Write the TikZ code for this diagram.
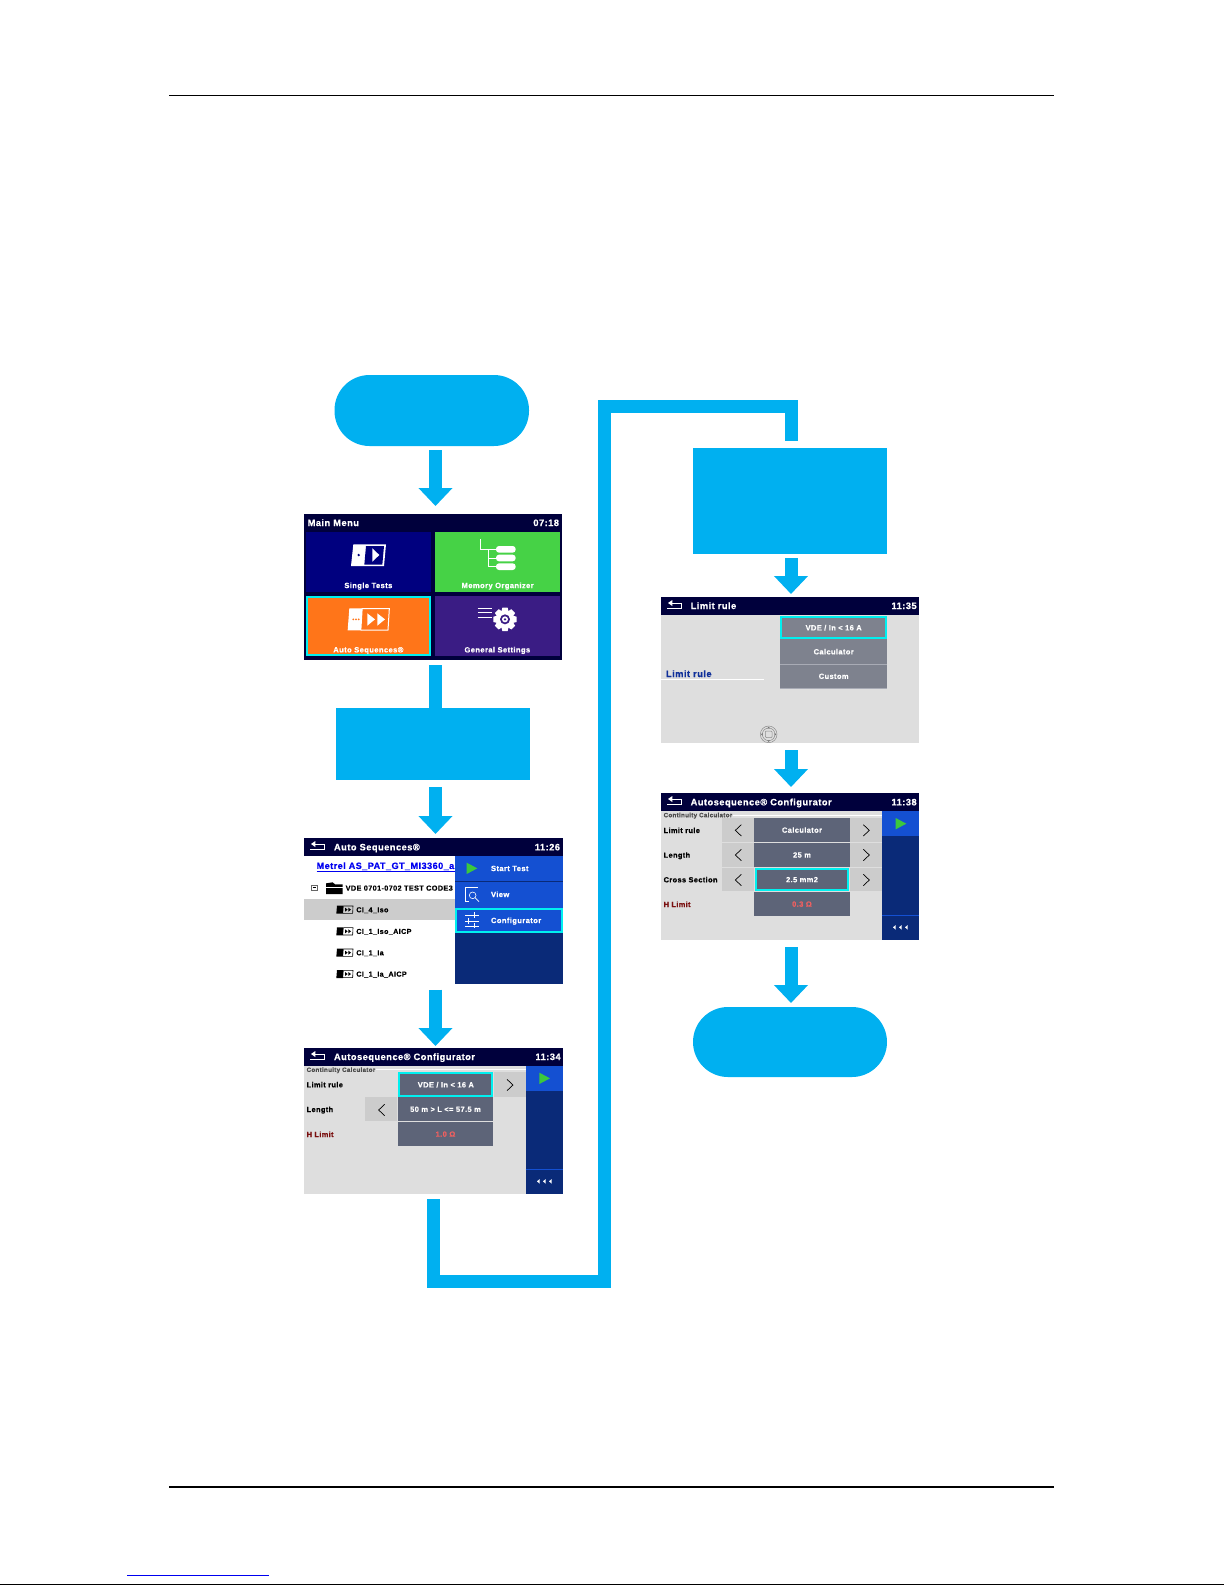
\documentclass[tikz,border=0pt]{standalone}
\usepackage{fontspec}
\setmainfont{Liberation Sans}
\newfontfamily\scr{Liberation Sans}[LetterSpace=5,BoldFeatures={FakeBold=0.5}]
\usetikzlibrary{arrows.meta}
\definecolor{flow}{HTML}{00B0F0}
\definecolor{barc}{HTML}{00003C}
\definecolor{navyt}{HTML}{00007F}
\definecolor{greent}{HTML}{46D246}
\definecolor{oranget}{HTML}{FF7519}
\definecolor{purplet}{HTML}{3A1C84}
\definecolor{cyanb}{HTML}{00F0F0}
\definecolor{panelb}{HTML}{1450D2}
\definecolor{paneld}{HTML}{0A2A78}
\definecolor{bodyg}{HTML}{DEDEDE}
\definecolor{cellg}{HTML}{CCCCCC}
\definecolor{btn}{HTML}{5D6478}
\definecolor{btnl}{HTML}{7E828E}
\definecolor{btnsep}{HTML}{A8ABB5}
\definecolor{limr}{HTML}{F06060}
\definecolor{darkr}{HTML}{7A0F0F}
\definecolor{linkb}{HTML}{0000F0}
\definecolor{lblue}{HTML}{10309A}
\definecolor{playg}{HTML}{3CC83C}
\def\zs{1}
\newcommand\capbox[1]{\smash{#1}\rule{0pt}{.72em}}
\newcommand\bx[7]{\node[boxn,#6,minimum width={(#4-#2)*\zs*1pt},minimum height={(#5-#3)*\zs*1pt}] (#1) at ({(#2+#4)/2},{(#3+#5)/2}) {\capbox{#7}};}
\newcommand\tl[5]{\node[txt,anchor=west,#4] (#1) at (#2,#3) {\capbox{#5}};}
\newcommand\tc[5]{\node[txt,anchor=center,#4] (#1) at (#2,#3) {\capbox{#5}};}
\newcommand\tr[5]{\node[txt,anchor=east,#4] (#1) at (#2,#3) {\capbox{#5}};}
% chevrons, back arrow, play triangle, triple arrows (zoom units)
\newcommand\chevl[2]{\draw[chev] ({#1+9},{#2-17}) -- ({#1-9},{#2}) -- ({#1+9},{#2+17});}
\newcommand\chevr[2]{\draw[chev] ({#1-9},{#2-17}) -- ({#1+9},{#2}) -- ({#1-9},{#2+17});}
\newcommand\backic[2]{%
  \draw[white,line width=.8pt] (#1,#2) -- ({#1+43},#2) -- ({#1+43},{#2-15}) -- ({#1+12},{#2-15});
  \fill[white] ({#1+3},{#2-15}) -- ({#1+16},{#2-24}) -- ({#1+16},{#2-6}) -- cycle;}
\newcommand\playic[2]{\fill[playg] (#1,{#2-17}) -- ({#1+32},#2) -- (#1,{#2+17}) -- cycle;}
\newcommand\triple[2]{\foreach \d in {-18,0,18} {\fill[white] ({#1+\d-5},#2) -- ({#1+\d+3},{#2-7}) -- ({#1+\d+3},{#2+7}) -- cycle;}}
\newcommand\seqic[2]{%
  \fill[black] (#1,{#2+12}) -- ({#1+2},{#2-12}) -- ({#1+22},{#2-12}) -- ({#1+20},{#2+12}) -- cycle;
  \draw[black,line width=.6pt] ({#1+22},{#2-11}) -- ({#1+50},{#2-11}) -- ({#1+49},{#2+11}) -- ({#1+20},{#2+11});
  \fill[black] ({#1+26},{#2-6}) -- ({#1+34},#2) -- ({#1+26},{#2+6}) -- cycle;
  \fill[black] ({#1+36},{#2-6}) -- ({#1+44},#2) -- ({#1+36},{#2+6}) -- cycle;}
\tikzset{
  boxn/.style={rectangle,inner sep=0pt,outer sep=0pt,text=white,align=center,font=\scr\bfseries\fontsize{7.5}{9}\selectfont},
  txt/.style={inner sep=0pt,outer sep=0pt,text=white,font=\scr\bfseries\fontsize{7.5}{9}\selectfont},
  ttl/.style={font=\scr\bfseries\fontsize{9.3}{11}\selectfont},
  tilelab/.style={font=\scr\bfseries\fontsize{7.6}{9}\selectfont},
  rowlab/.style={text=black,font=\scr\bfseries\fontsize{7.4}{9}\selectfont},
  seqlab/.style={text=black,font=\scr\bfseries\fontsize{7.2}{9}\selectfont},
  sublab/.style={text=black!70,font=\scr\bfseries\fontsize{6.2}{7}\selectfont},
  chev/.style={draw=black,line width=.7pt,line join=miter},
  sel/.style={draw=cyanb,line width=2pt},
  flowarrow/.style={draw=flow,line width=13pt,-{Triangle[width=33pt,length=18pt]}},
  flowline/.style={draw=flow,line width=13pt,line join=miter},
  ovalbox/.style={fill=flow,rounded corners=35pt},
  flowbox/.style={fill=flow},
  rule/.style={draw=black,line width=1pt},
}
\begin{document}
\begin{tikzpicture}[x=1pt,y=-1pt]
\useasboundingbox (0,0) rectangle (1225,1585);
% page rules
\coordinate (rulTL) at (169,95.6); \coordinate (rulTR) at (1054,95.6);
\coordinate (rulBL) at (169,1486.8); \coordinate (rulBR) at (1054,1486.8);
\coordinate (linkL) at (127,1575.3); \coordinate (linkR) at (269,1575.3);
\coordinate (footL) at (0,1584.3); \coordinate (footR) at (1224,1584.3);
\draw[rule] (rulTL) -- (rulTR);
\draw[rule,line width=2.2pt] (rulBL) -- (rulBR);
\draw[draw=linkb,line width=1pt] (linkL) -- (linkR);
\draw[rule] (footL) -- (footR);
% flow boxes
\bx{startov}{334.5}{375}{529}{446}{ovalbox}{}
\bx{box2}{336}{707.5}{530}{780}{flowbox}{}
\bx{box3}{693}{448}{887}{554}{flowbox}{}
\bx{endov}{693}{1007}{887}{1077}{ovalbox}{}

% ---------- Main menu
\begin{scope}[shift={(290,500)},x=.33333pt,y=-.33333pt]
\def\zs{.33333}
\bx{menu}{42}{42}{816}{480}{fill=barc}{}
\tl{menuT}{53}{68}{ttl}{Main Menu}
\tr{menuC}{807}{68}{ttl}{07:18}
\bx{tileS}{48}{95}{424}{275}{fill=navyt}{}
\bx{tileM}{436}{95}{810}{275}{fill=greent}{}
\bx{tileA}{51}{291}{420}{465}{fill=oranget,sel}{}
\bx{tileG}{436}{288}{810}{468}{fill=purplet}{}
\tc{tileSl}{235}{256}{tilelab}{Single Tests}
\tc{tileMl}{623}{256}{tilelab}{Memory Organizer}
\tc{tileAl}{235}{449}{tilelab}{Auto Sequences®}
\tc{tileGl}{622}{449}{tilelab}{General Settings}
% single icon
\fill[white] (183,198) -- (190,133) -- (288,133) -- (282,198) -- cycle;
\fill[navyt] (228,138) -- (282,138) -- (277,194) -- (223,194) -- cycle;
\fill[white] (247,145) -- (268,165) -- (247,185) -- cycle;
\fill[navyt] (206,165) circle (4);
% memory icon
\draw[white,line width=.8pt] (570,118) -- (570,148) -- (620,148);
\draw[white,line width=.8pt] (595,148) -- (595,200) -- (620,200) (595,174) -- (620,174);
\foreach \yy in {148,174,200} {\fill[white,rounded corners=3pt] (618,{\yy-10}) rectangle (677,{\yy+10});}
% auto icon
\draw[white,line width=1pt] (215,326) -- (298,326) -- (294,390) -- (212,390);
\fill[white] (173,391) -- (178,325) -- (218,325) -- (214,391) -- cycle;
\fill[white] (232,340) -- (255,358) -- (232,377) -- cycle;
\fill[white] (262,340) -- (285,358) -- (262,377) -- cycle;
\foreach \xx in {190,198,206} {\fill[oranget] (\xx,358) circle (3);}
% settings icon
\foreach \yy in {325,337,351} {\draw[white,line width=1pt] (563,\yy) -- (607,\yy);}
\foreach \aa in {0,45,...,315} {\fill[white,rotate around={\aa:(645,358)}] (637,323) -- (653,323) -- (657,340) -- (633,340) -- cycle;}
\fill[white] (645,358) circle (26);
\fill[purplet] (645,358) circle (15);
\fill[white] (645,358) circle (9);
\fill[purplet] (645,358) circle (4);
\end{scope}

% ---------- Auto sequences
\begin{scope}[shift={(290,825)},x=.33333pt,y=-.33333pt]
\def\zs{.33333}
\bx{seq}{42}{39}{819}{477}{fill=white}{}
\bx{seqB}{42}{39}{819}{92}{fill=barc}{}
\backic{60}{72}
\tl{seqT}{132}{66}{ttl}{Auto Sequences®}
\tr{seqC}{810}{66}{ttl}{11:26}
\tl{seqL}{80}{122}{text=linkb,font=\scr\bfseries\fontsize{9.1}{11}\selectfont}{Metrel AS\_PAT\_GT\_MI3360\_a}
\draw[linkb,line width=.8pt] (80,138) -- (496,138);
\bx{seqSel}{42}{222}{496}{285}{fill=cellg}{}
\draw[black!60,line width=.5pt] (65,180) rectangle (82,196);
\draw[black,line width=.7pt] (68,188) -- (79,188);
\fill[black] (108,207) -- (108,175) -- (128,172) -- (135,178) -- (158,178) -- (158,207) -- cycle;
\draw[white,line width=.4pt] (108,186) -- (158,186);
\tl{seqF}{167}{189}{text=black,font=\scr\bfseries\fontsize{7.3}{8}\selectfont}{VDE 0701-0702 TEST CODE3}
\seqic{139}{254}\seqic{139}{319}\seqic{139}{383}\seqic{139}{447}
\tl{seqR1}{199}{254}{seqlab}{CI\_4\_Iso}
\tl{seqR2}{199}{319}{seqlab}{CI\_1\_Iso\_AICP}
\tl{seqR3}{199}{383}{seqlab}{CI\_1\_Ia}
\tl{seqR4}{199}{447}{seqlab}{CI\_1\_Ia\_AICP}
\bx{seqP}{496}{92}{819}{477}{fill=paneld}{}
\bx{seqP1}{496}{92}{819}{168}{fill=panelb}{}
\bx{seqP2}{496}{171}{819}{248}{fill=panelb}{}
\bx{seqP3}{499}{253}{816}{320}{fill=panelb,sel}{}
\playic{530}{130}
\tl{seqS}{603}{130}{tilelab}{Start Test}
\tl{seqV}{603}{208}{tilelab}{View}
\tl{seqK}{603}{286}{tilelab}{Configurator}
% view icon
\draw[white,line width=.6pt] (563,187) -- (525,187) -- (525,228) -- (537,228);
\draw[white,line width=.6pt] (548,211) circle (10);
\draw[white,line width=.8pt] (555,218) -- (567,230);
% configurator icon
\draw[white,line width=.8pt] (525,270) -- (567,270) (525,288) -- (567,288) (525,303) -- (567,303);
\draw[white,line width=1.2pt] (553,262) -- (553,278) (535,280) -- (535,296) (553,295) -- (553,310);
\end{scope}

% ---------- Configurator 1
\begin{scope}[shift={(290,1040)},x=.33333pt,y=-.33333pt]
\def\zs{.33333}
\bx{cfa}{42}{24}{819}{462}{fill=bodyg}{}
\bx{cfaB}{42}{24}{819}{77}{fill=barc}{}
\backic{60}{57}
\tl{cfaT}{132}{50}{ttl}{Autosequence® Configurator}
\tr{cfaC}{812}{50}{ttl}{11:34}
\bx{cfaP}{707}{77}{819}{462}{fill=paneld}{}
\bx{cfaP1}{707}{77}{819}{152}{fill=panelb}{}
\draw[panelb,line width=.5pt] (707,388) -- (819,388);
\playic{748}{115}
\triple{764}{424}
\tl{cfaS}{50}{89}{sublab}{Continuity Calculator}
\draw[white,line width=.8pt] (258,89) -- (707,89);
\tl{cfaL1}{50}{134}{rowlab}{Limit rule}
\tl{cfaL2}{50}{208}{rowlab}{Length}
\tl{cfaL3}{50}{283}{rowlab,text=darkr}{H Limit}
\bx{cfaA1}{612}{97}{707}{171}{fill=cellg}{}
\bx{cfaA2}{225}{171}{322}{243}{fill=cellg}{}
\chevr{660}{135}
\chevl{275}{210}
\bx{cfaV1}{328}{100}{607}{168}{fill=btn,sel}{VDE / In < 16 A}
\bx{cfaV2}{323}{172}{610}{243}{fill=btn}{50 m > L <= 57.5 m}
\bx{cfaV3}{323}{246}{610}{318}{fill=btn,text=limr}{1.0 Ω}
\end{scope}

% ---------- Limit rule
\begin{scope}[shift={(650,590)},x=.33333pt,y=-.33333pt]
\def\zs{.33333}
\bx{lim}{34}{21}{808}{459}{fill=bodyg}{}
\bx{limB}{34}{21}{808}{74}{fill=barc}{}
\backic{51}{54}
\tl{limT}{122}{47}{ttl}{Limit rule}
\tr{limC}{800}{47}{ttl}{11:35}
\bx{limV2}{390}{148}{712}{222}{fill=btnl}{Calculator}
\bx{limV3}{390}{222}{712}{295}{fill=btnl}{Custom}
\bx{limV1}{393}{81}{709}{145}{fill=btnl,sel}{VDE / In < 16 A}
\draw[btnsep,line width=1pt] (390,222) -- (712,222) (390,296) -- (712,296);
\tl{limL}{48}{251}{text=lblue,ttl}{Limit rule}
\draw[white,line width=.8pt] (34,267) -- (341,267);
\begin{scope}
\clip (300,380) rectangle (420,459);
\draw[black!45,line width=.5pt] (356,433) circle (25);
\draw[black!45,line width=.5pt] (356,433) circle (19);
\draw[black!45,line width=.5pt,rounded corners=1pt] (346,423) rectangle (366,443);
\foreach \aa in {0,90,180,270} {\fill[black!55,rotate around={\aa:(356,433)}] (352,415) -- (360,415) -- (356,410) -- cycle;}
\end{scope}
\end{scope}

% ---------- Configurator 2
\begin{scope}[shift={(650,785)},x=.33333pt,y=-.33333pt]
\def\zs{.33333}
\bx{cfb}{34}{24}{808}{465}{fill=bodyg}{}
\bx{cfbB}{34}{24}{808}{78}{fill=barc}{}
\backic{51}{57}
\tl{cfbT}{122}{51}{ttl}{Autosequence® Configurator}
\tr{cfbC}{800}{51}{ttl}{11:38}
\bx{cfbP}{696}{78}{808}{465}{fill=paneld}{}
\bx{cfbP1}{696}{78}{808}{153}{fill=panelb}{}
\draw[panelb,line width=.5pt] (696,391) -- (808,391);
\playic{737}{116}
\triple{752}{427}
\tl{cfbS}{41}{90}{sublab}{Continuity Calculator}
\draw[white,line width=.8pt] (248,90) -- (696,90);
\tl{cfbL1}{41}{136}{rowlab}{Limit rule}
\tl{cfbL2}{41}{210}{rowlab}{Length}
\tl{cfbL3}{41}{284}{rowlab}{Cross Section}
\tl{cfbL4}{41}{358}{rowlab,text=darkr}{H Limit}
\bx{cfbA1}{216}{98}{311}{172}{fill=cellg}{}
\bx{cfbA2}{216}{173}{311}{246}{fill=cellg}{}
\bx{cfbA3}{216}{248}{311}{318}{fill=cellg}{}
\bx{cfbB1}{600}{98}{696}{172}{fill=cellg}{}
\bx{cfbB2}{600}{173}{696}{246}{fill=cellg}{}
\bx{cfbB3}{600}{248}{696}{318}{fill=cellg}{}
\chevl{265}{136}\chevl{265}{210}\chevl{265}{285}
\chevr{649}{136}\chevr{649}{210}\chevr{649}{285}
\bx{cfbV1}{312}{98}{600}{172}{fill=btn}{Calculator}
\bx{cfbV2}{312}{173}{600}{246}{fill=btn}{25 m}
\bx{cfbV4}{312}{321}{600}{393}{fill=btn,text=limr}{0.3 Ω}
\bx{cfbV3}{317}{252}{595}{315}{fill=btn,sel}{2.5 mm2}
\end{scope}

% ---------- connectors
\coordinate (xa) at (435.5,0);
\coordinate (xb) at (433.5,0);
\coordinate (xc) at (791,0);
\coordinate (bendA) at (604.5,1281.5);
\coordinate (bendB) at (604.5,406.5);
\draw[flowarrow,shorten <=4pt,shorten >=8pt] (startov.south -| xa) -- (menu.north -| xa);
\draw[flowline,shorten <=5pt] (menu.south -| xa) -- (box2.north -| xa);
\draw[flowarrow,shorten <=7pt,shorten >=4pt] (box2.south -| xa) -- (seq.north -| xa);
\draw[flowarrow,shorten <=5.5pt,shorten >=2pt] (seq.south -| xa) -- (cfa.north -| xa);
\draw[flowline,shorten <=5pt,shorten >=7pt] (cfa.south -| xb) -- (xb |- bendA) -- (bendA) -- (bendB) -- (xc |- bendB) -- (box3.north -| xc);
\draw[flowarrow,shorten <=4pt,shorten >=3pt] (box3.south -| xc) -- (lim.north -| xc);
\draw[flowarrow,shorten <=7pt,shorten >=6pt] (lim.south -| xc) -- (cfb.north -| xc);
\draw[flowarrow,shorten <=7pt,shorten >=4pt] (cfb.south -| xc) -- (endov.north -| xc);
\end{tikzpicture}
\end{document}
